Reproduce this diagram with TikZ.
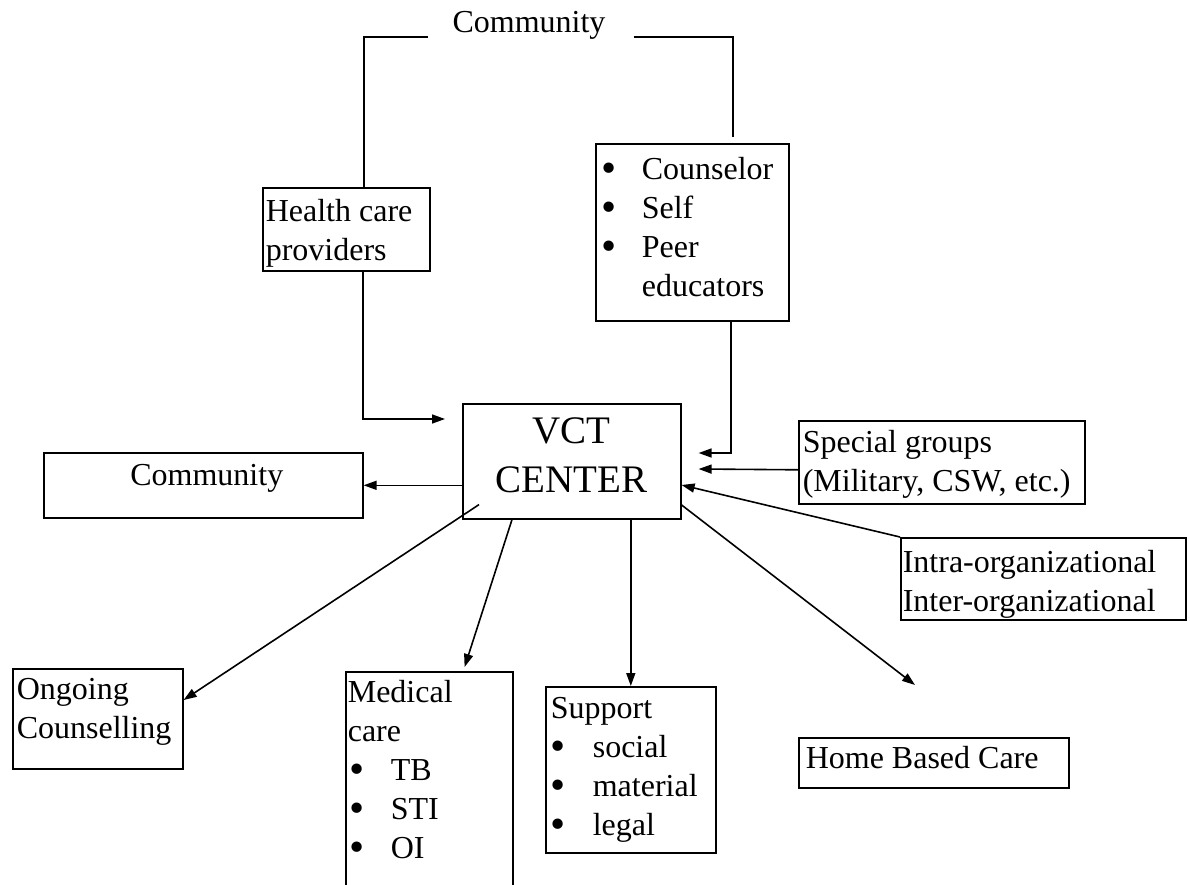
\documentclass[tikz,border=0pt]{standalone}
\usepackage{fontspec}
\setmainfont{Liberation Serif}
\usetikzlibrary{arrows.meta,calc}

% #1 width, #2 height, #3 left pad, #4 first baseline from top, #5 lines
\newcommand\panel[5]{%
  \hbox to #1{\hspace*{#3}\parbox[t][#2][t]{\dimexpr#1-#3\relax}{%
    \raggedright\rule{0pt}{#4}#5}\hss}}
% bullet followed by a fixed gap
\newcommand\bul[1]{\makebox[#1][l]{\raisebox{-2.5pt}{\scalebox{1.35}{\textbullet}}}}

\begin{document}
\begin{tikzpicture}[x=1pt,y=-1pt,
  every node/.style={inner sep=0pt, font=\fontsize{32}{39}\selectfont},
  box/.style={draw, line width=1.6pt, anchor=north west},
  link/.style={line width=1.6pt},
  arr/.style={link, -{Triangle[length=13pt,width=9pt]}}]

\useasboundingbox (0,0) rectangle (1190,885);
\clip (0,0) rectangle (1190,885);

% boxes
\node[anchor=base] (comtop) at (529,33) {Community};
\node[box] (hc) at (262,187) {\panel{167pt}{83pt}{3pt}{34pt}{Health care\\providers}};
\node[box] (cs) at (595,143) {\panel{193pt}{177pt}{6pt}{36pt}{%
  \bul{40pt}Counselor\\\bul{40pt}Self\\\bul{40pt}Peer\\\hspace*{40pt}educators}};
\node[box] (vct) at (462,403) {\panel{218pt}{115pt}{0pt}{40pt}{%
  \centering\fontsize{39}{49}\selectfont VCT\\CENTER}};
\node[box] (cl) at (43,452) {\panel{319pt}{65pt}{7pt}{33pt}{\centering Community}};
\node[box] (sg) at (798,420) {\panel{286pt}{83pt}{4pt}{32pt}{Special groups\\(Military, CSW, etc.)}};
\node[box] (io) at (900,537) {\panel{285pt}{82pt}{2pt}{35pt}{Intra-organizational\\Inter-organizational}};
\node[box] (og) at (12,668) {\panel{170pt}{100pt}{4pt}{31pt}{Ongoing\\Counselling}};
\node[box] (mc) at (345,671) {\panel{167pt}{230pt}{2pt}{31pt}{%
  Medical\\care\\\hspace*{2pt}\bul{41pt}TB\\\hspace*{2pt}\bul{41pt}STI\\\hspace*{2pt}\bul{41pt}OI}};
\node[box] (sp) at (545,686) {\panel{170pt}{166pt}{5pt}{32pt}{%
  Support\\\bul{42pt}social\\\bul{42pt}material\\\bul{42pt}legal}};
\node[box] (hb) at (798,737) {\panel{270pt}{50pt}{7pt}{31pt}{Home Based Care}};

% community bracket over the two referral sources
\draw[link] ([xshift=17.5pt]hc.north) |- ([xshift=-24pt,yshift=-4pt]comtop.base west);
\draw[link] ([xshift=28pt,yshift=-4pt]comtop.base east) -| ([xshift=138pt,yshift=6pt]cs.north west);

% referrals into the centre
\draw[arr] ([xshift=16.5pt]hc.south) |- ([xshift=-17pt,yshift=-16pt]vct.north west);
\draw[arr] ([xshift=136pt]cs.south west) |- ([xshift=17pt,yshift=-50pt]vct.north east);
\draw[arr] ([yshift=-7.5pt]sg.west) -- ([xshift=17pt,yshift=-66pt]vct.north east);
\draw[arr] (io.north west) -- ([yshift=-82pt]vct.north east);

% referrals out of the centre
\draw[arr] (vct.west |- cl.east) -- (cl.east);
\draw[arr] ([xshift=17pt,yshift=15pt]vct.south west) -- ([yshift=-32pt]og.north east);
\draw[arr] ([xshift=50pt]vct.south west) -- ([xshift=-49pt,yshift=4pt]mc.north east);
\draw[arr] (vct.south -| sp.north) -- (sp.north);
\draw[arr] ([yshift=-102pt]vct.north east) -- ([xshift=117pt,yshift=52pt]hb.north west);
\end{tikzpicture}
\end{document}
